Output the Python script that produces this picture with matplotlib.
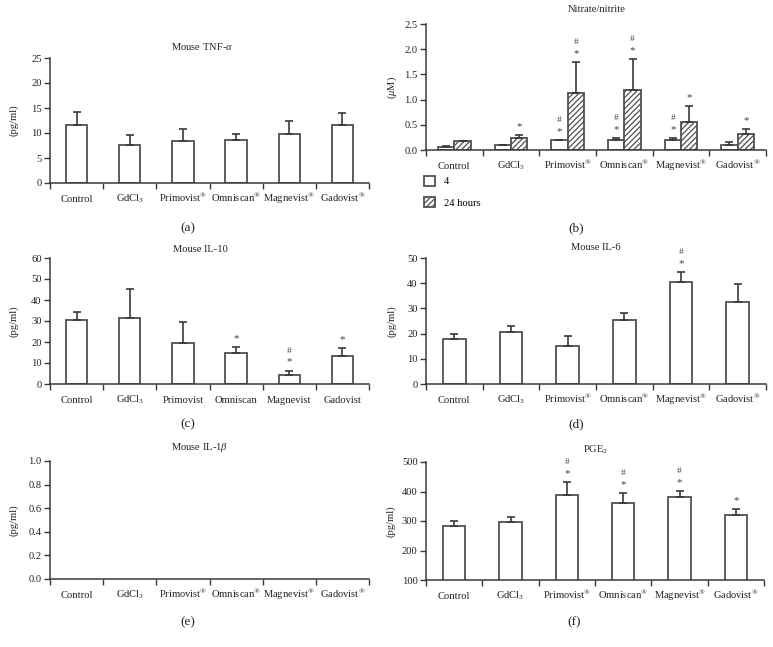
import matplotlib
matplotlib.use("Agg")
import matplotlib.pyplot as plt
import numpy as np

plt.rcParams['font.family'] = ['Liberation Serif', 'DejaVu Serif']
plt.rcParams['mathtext.fontset'] = 'custom'
plt.rcParams['mathtext.rm'] = 'Liberation Serif'
plt.rcParams['mathtext.it'] = 'Liberation Serif:italic'
plt.rcParams['mathtext.bf'] = 'Liberation Serif:bold'
plt.rcParams['hatch.color'] = '#333333'
plt.rcParams['hatch.linewidth'] = 0.9

R = r'$^{\mathrm{®}}$'
cats_reg = ['Control', r'GdCl$_3$', 'Primovist' + R, 'Omniscan' + R, 'Magnevist' + R, 'Gadovist' + R]
cats_plain = ['Control', r'GdCl$_3$', 'Primovist', 'Omniscan', 'Magnevist', 'Gadovist']

# (a) TNF-alpha
tnf_mean = [11.7, 7.6, 8.5, 8.6, 9.8, 11.7]
tnf_err = [2.6, 2.0, 2.3, 1.2, 2.7, 2.4]

# (b) Nitrate/nitrite
no_4h_mean = [0.06, 0.10, 0.19, 0.19, 0.20, 0.10]
no_4h_err = [0.01, 0.005, 0.01, 0.055, 0.04, 0.05]
no_24h_mean = [0.17, 0.245, 1.13, 1.19, 0.55, 0.31]
no_24h_err = [0.01, 0.06, 0.61, 0.61, 0.32, 0.10]
no_4h_marks = ['', '', '#*', '#*', '#*', '']
no_24h_marks = ['', '*', '#*', '#*', '*', '*']

# (c) IL-10
il10_mean = [30.4, 31.2, 19.4, 15.0, 4.5, 13.5]
il10_err = [3.7, 14.0, 10.2, 2.7, 1.9, 3.7]
il10_marks = ['', '', '', '*', '#*', '*']

# (d) IL-6
il6_mean = [18.0, 20.8, 14.9, 25.2, 40.3, 32.4]
il6_err = [1.9, 2.4, 4.3, 2.8, 4.1, 7.3]
il6_marks = ['', '', '', '', '#*', '']

# (f) PGE2
pge_mean = [283.6, 295.0, 387.8, 359.5, 380.0, 318.7]
pge_err = [17.0, 17.0, 45.2, 36.3, 22.5, 22.7]
pge_marks = ['', '', '#*', '#*', '#*', '*']

W, H = 773, 647
fig = plt.figure(figsize=(W / 100, H / 100), dpi=100)

EC = '#3a3a3a'
BC = '#505050'
TXT = '#222222'
FS = 7.6


def add_ax(x0, x1, ytop, ybot):
    ax = fig.add_axes([x0 / W, 1 - ybot / H, (x1 - x0) / W, (ybot - ytop) / H])
    ax._px = (x0, x1)
    return ax


def style(ax, labels, ylim, yticks, ylabel, yfmt, ylab_x):
    ax.set_xlim(-0.5, 5.5)
    ax.set_ylim(*ylim)
    for s in ['top', 'right']:
        ax.spines[s].set_visible(False)
    for s in ['left', 'bottom']:
        ax.spines[s].set_color(EC)
        ax.spines[s].set_linewidth(1.1)
    ax.set_xticks(np.arange(-0.5, 6, 1.0))
    ax.set_xticklabels([])
    ax.set_xticks(np.arange(6), minor=True)
    ax.set_xticklabels(labels, minor=True, fontsize=FS, color=TXT)
    ax.tick_params(axis='x', which='minor', length=0, pad=13.5)
    ax.tick_params(axis='x', which='major', length=4, width=1.0, color=EC, direction='out')
    for lab in ax.get_xticklabels(minor=True):
        lab.set_verticalalignment('baseline')
    ax.set_yticks(yticks)
    ax.set_yticklabels([yfmt.format(v) for v in yticks], fontsize=FS, color=TXT)
    ax.tick_params(axis='y', length=4, width=1.0, color=EC, direction='out', pad=2)
    ax.set_ylabel(ylabel, fontsize=FS, color=TXT, va='center')
    x0, x1 = ax._px
    ax.yaxis.set_label_coords((ylab_x - x0) / (x1 - x0), 0.5)


def bars(ax, x, mean, err, width, hatch=None, label=None):
    b = ax.bar(x, mean, width=width, color='white', edgecolor=BC, linewidth=1.3,
               hatch=hatch, zorder=2, label=label)
    ax.errorbar(x, mean, yerr=[np.zeros(len(err)), err], fmt='none', ecolor=EC,
                elinewidth=1.2, capsize=2.6, capthick=1.2, zorder=3)
    return b


def marks(ax, x, mean, err, mk):
    for xi, m, e, s in zip(x, mean, err, mk):
        top = m + e
        if '*' in s:
            ax.annotate('*', (xi, top), xytext=(0, 4), textcoords='offset pixels',
                        ha='center', va='bottom', fontsize=8, color='#444444')
        if '#' in s:
            ax.annotate('#', (xi, top), xytext=(0, 16), textcoords='offset pixels',
                        ha='center', va='bottom', fontsize=6.8, color='#444444')


x = np.arange(6)

# (a)
ax = add_ax(50, 369, 58, 183)
bars(ax, x, tnf_mean, tnf_err, 0.4)
style(ax, cats_reg, (0, 25), [0, 5, 10, 15, 20, 25], '(pg/ml)', '{:g}', 14)
fig.text(202 / W, 1 - 46 / H, r'Mouse TNF-$\it{\alpha}$', ha='center', va='center', fontsize=7.6, color=TXT)
fig.text(188 / W, 1 - 228 / H, '(a)', ha='center', va='center', fontsize=9.5, color=TXT)

# (b)
ax = add_ax(426, 766, 24, 150)
bw = 0.29
b1 = bars(ax, x - bw / 2, no_4h_mean, no_4h_err, bw, label='4')
b2 = bars(ax, x + bw / 2, no_24h_mean, no_24h_err, bw, hatch='//////', label='24 hours')
marks(ax, x - bw / 2, no_4h_mean, no_4h_err, no_4h_marks)
marks(ax, x + bw / 2, no_24h_mean, no_24h_err, no_24h_marks)
style(ax, cats_reg, (0, 2.5), [0.0, 0.5, 1.0, 1.5, 2.0, 2.5], r'($\mu$M)', '{:.1f}', 392)
fig.text(597 / W, 1 - 10 / H, 'Nitrate/nitrite', ha='center', va='center', fontsize=7.6, color=TXT)
fig.legend(handles=[b1, b2], labels=['4', '24 hours'], loc='upper left',
           bbox_to_anchor=(424 / W, 1 - 176 / H), frameon=False, fontsize=FS,
           handlelength=1.05, handleheight=1.05, handletextpad=0.85, labelspacing=1.0,
           borderaxespad=0, borderpad=0)
fig.text(576 / W, 1 - 228 / H, '(b)', ha='center', va='center', fontsize=9.5, color=TXT)

# (c)
ax = add_ax(50, 369, 258, 384)
bars(ax, x, il10_mean, il10_err, 0.4)
marks(ax, x, il10_mean, il10_err, il10_marks)
style(ax, cats_plain, (0, 60), [0, 10, 20, 30, 40, 50, 60], '(pg/ml)', '{:g}', 14)
fig.text(200 / W, 1 - 250 / H, 'Mouse IL-10', ha='center', va='center', fontsize=7.6, color=TXT)
fig.text(188 / W, 1 - 424 / H, '(c)', ha='center', va='center', fontsize=9.5, color=TXT)

# (d)
ax = add_ax(426, 766, 258, 384)
bars(ax, x, il6_mean, il6_err, 0.4)
marks(ax, x, il6_mean, il6_err, il6_marks)
style(ax, cats_reg, (0, 50), [0, 10, 20, 30, 40, 50], '(pg/ml)', '{:g}', 392)
fig.text(596 / W, 1 - 248 / H, 'Mouse IL-6', ha='center', va='center', fontsize=7.6, color=TXT)
fig.text(576 / W, 1 - 424 / H, '(d)', ha='center', va='center', fontsize=9.5, color=TXT)

# (e)
ax = add_ax(50, 369, 461, 579)
style(ax, cats_reg, (0, 1.0), [0.0, 0.2, 0.4, 0.6, 0.8, 1.0], '(pg/ml)', '{:.1f}', 14)
fig.text(200 / W, 1 - 448 / H, r'Mouse IL-1$\it{\beta}$', ha='center', va='center', fontsize=7.6, color=TXT)
fig.text(188 / W, 1 - 622 / H, '(e)', ha='center', va='center', fontsize=9.5, color=TXT)

# (f)
ax = add_ax(426, 764, 462, 580)
bars(ax, x, pge_mean, pge_err, 0.4)
marks(ax, x, pge_mean, pge_err, pge_marks)
style(ax, cats_reg, (100, 500), [100, 200, 300, 400, 500], '(pg/ml)', '{:g}', 391)
fig.text(596 / W, 1 - 450 / H, r'PGE$_2$', ha='center', va='center', fontsize=7.6, color=TXT)
fig.text(574 / W, 1 - 622 / H, '(f)', ha='center', va='center', fontsize=9.5, color=TXT)

fig.savefig('out.png', dpi=100, facecolor='white')
